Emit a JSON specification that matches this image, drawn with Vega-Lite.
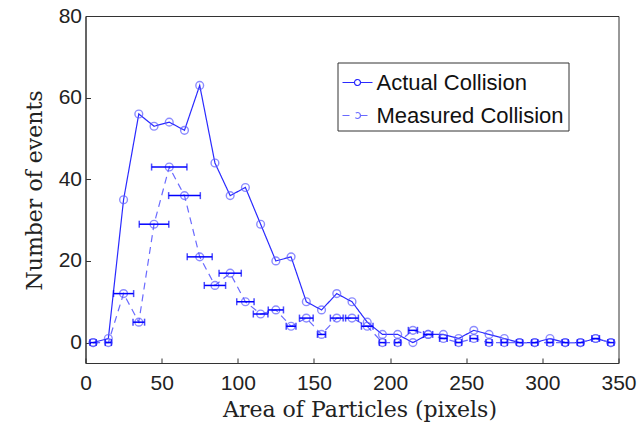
{
  "$schema": "https://vega.github.io/schema/vega-lite/v6.json",
  "width": 533,
  "height": 347,
  "autosize": {"type": "none"},
  "padding": {"left": 85.5, "top": 16, "right": 23.5, "bottom": 63},
  "background": "white",
  "config": {
    "view": {"stroke": "#333", "strokeWidth": 1},
    "axis": {
      "grid": false,
      "domainColor": "#333",
      "tickColor": "#333",
      "tickSize": -5,
      "labelFlush": false,
      "labelFont": "Liberation Sans",
      "labelFontSize": 21,
      "labelColor": "#222",
      "titleFont": "DejaVu Serif",
      "titleFontWeight": "normal",
      "titleFontSize": 22,
      "titleColor": "#222"
    }
  },
  "data": {
    "values": [
      {"x": 5, "y": 0, "series": "Actual Collision"},
      {"x": 15, "y": 1, "series": "Actual Collision"},
      {"x": 25, "y": 35, "series": "Actual Collision"},
      {"x": 35, "y": 56, "series": "Actual Collision"},
      {"x": 45, "y": 53, "series": "Actual Collision"},
      {"x": 55, "y": 54, "series": "Actual Collision"},
      {"x": 65, "y": 52, "series": "Actual Collision"},
      {"x": 75, "y": 63, "series": "Actual Collision"},
      {"x": 85, "y": 44, "series": "Actual Collision"},
      {"x": 95, "y": 36, "series": "Actual Collision"},
      {"x": 105, "y": 38, "series": "Actual Collision"},
      {"x": 115, "y": 29, "series": "Actual Collision"},
      {"x": 125, "y": 20, "series": "Actual Collision"},
      {"x": 135, "y": 21, "series": "Actual Collision"},
      {"x": 145, "y": 10, "series": "Actual Collision"},
      {"x": 155, "y": 8, "series": "Actual Collision"},
      {"x": 165, "y": 12, "series": "Actual Collision"},
      {"x": 175, "y": 10, "series": "Actual Collision"},
      {"x": 185, "y": 5, "series": "Actual Collision"},
      {"x": 195, "y": 2, "series": "Actual Collision"},
      {"x": 205, "y": 2, "series": "Actual Collision"},
      {"x": 215, "y": 0, "series": "Actual Collision"},
      {"x": 225, "y": 2, "series": "Actual Collision"},
      {"x": 235, "y": 2, "series": "Actual Collision"},
      {"x": 245, "y": 1, "series": "Actual Collision"},
      {"x": 255, "y": 3, "series": "Actual Collision"},
      {"x": 265, "y": 2, "series": "Actual Collision"},
      {"x": 275, "y": 1, "series": "Actual Collision"},
      {"x": 285, "y": 0, "series": "Actual Collision"},
      {"x": 295, "y": 0, "series": "Actual Collision"},
      {"x": 305, "y": 1, "series": "Actual Collision"},
      {"x": 315, "y": 0, "series": "Actual Collision"},
      {"x": 325, "y": 0, "series": "Actual Collision"},
      {"x": 335, "y": 1, "series": "Actual Collision"},
      {"x": 345, "y": 0, "series": "Actual Collision"},
      {"x": 5, "y": 0, "lo": 3, "hi": 7, "series": "Measured Collision"},
      {"x": 15, "y": 0, "lo": 13, "hi": 17, "series": "Measured Collision"},
      {"x": 25, "y": 12, "lo": 18.4, "hi": 31.6, "series": "Measured Collision"},
      {"x": 35, "y": 5, "lo": 31.2, "hi": 38.8, "series": "Measured Collision"},
      {"x": 45, "y": 29, "lo": 35.3, "hi": 54.7, "series": "Measured Collision"},
      {"x": 55, "y": 43, "lo": 43.4, "hi": 66.6, "series": "Measured Collision"},
      {"x": 65, "y": 36, "lo": 54.6, "hi": 75.4, "series": "Measured Collision"},
      {"x": 75, "y": 21, "lo": 66.8, "hi": 83.2, "series": "Measured Collision"},
      {"x": 85, "y": 14, "lo": 78, "hi": 92, "series": "Measured Collision"},
      {"x": 95, "y": 17, "lo": 87.7, "hi": 102.3, "series": "Measured Collision"},
      {"x": 105, "y": 10, "lo": 99.3, "hi": 110.7, "series": "Measured Collision"},
      {"x": 115, "y": 7, "lo": 110.2, "hi": 119.8, "series": "Measured Collision"},
      {"x": 125, "y": 8, "lo": 120, "hi": 130, "series": "Measured Collision"},
      {"x": 135, "y": 4, "lo": 131.8, "hi": 138.2, "series": "Measured Collision"},
      {"x": 145, "y": 6, "lo": 140.5, "hi": 149.5, "series": "Measured Collision"},
      {"x": 155, "y": 2, "lo": 152.3, "hi": 157.7, "series": "Measured Collision"},
      {"x": 165, "y": 6, "lo": 160.8, "hi": 169.2, "series": "Measured Collision"},
      {"x": 175, "y": 6, "lo": 170.8, "hi": 179.2, "series": "Measured Collision"},
      {"x": 185, "y": 4, "lo": 181.2, "hi": 188.8, "series": "Measured Collision"},
      {"x": 195, "y": 0, "lo": 193, "hi": 197, "series": "Measured Collision"},
      {"x": 205, "y": 0, "lo": 203, "hi": 207, "series": "Measured Collision"},
      {"x": 215, "y": 3, "lo": 212, "hi": 218, "series": "Measured Collision"},
      {"x": 225, "y": 2, "lo": 222, "hi": 228, "series": "Measured Collision"},
      {"x": 235, "y": 1, "lo": 232.5, "hi": 237.5, "series": "Measured Collision"},
      {"x": 245, "y": 0, "lo": 243, "hi": 247, "series": "Measured Collision"},
      {"x": 255, "y": 1, "lo": 252.5, "hi": 257.5, "series": "Measured Collision"},
      {"x": 265, "y": 0, "lo": 263, "hi": 267, "series": "Measured Collision"},
      {"x": 275, "y": 0, "lo": 273, "hi": 277, "series": "Measured Collision"},
      {"x": 285, "y": 0, "lo": 283, "hi": 287, "series": "Measured Collision"},
      {"x": 295, "y": 0, "lo": 293, "hi": 297, "series": "Measured Collision"},
      {"x": 305, "y": 0, "lo": 303, "hi": 307, "series": "Measured Collision"},
      {"x": 315, "y": 0, "lo": 313, "hi": 317, "series": "Measured Collision"},
      {"x": 325, "y": 0, "lo": 323, "hi": 327, "series": "Measured Collision"},
      {"x": 335, "y": 1, "lo": 332.5, "hi": 337.5, "series": "Measured Collision"},
      {"x": 345, "y": 0, "lo": 343, "hi": 347, "series": "Measured Collision"}
    ]
  },
  "layer": [
    {
      "mark": {"type": "line", "strokeWidth": 1.2},
      "encoding": {
        "x": {
          "field": "x", "type": "quantitative",
          "title": "Area of Particles (pixels)",
          "scale": {"domain": [0, 350], "nice": false, "zero": false, "padding": 0},
          "axis": {
            "values": [0, 50, 100, 150, 200, 250, 300, 350],
            "labelPadding": 14,
            "titleX": 274,
            "titleY": 53.7,
            "titleBaseline": "alphabetic",
            "titleAnchor": "middle",
            "titleAlign": "center"
          }
        },
        "y": {
          "field": "y", "type": "quantitative",
          "title": "Number of events",
          "scale": {"domain": [-5, 80], "nice": false, "zero": false, "padding": 0},
          "axis": {
            "values": [0, 20, 40, 60, 80],
            "labelPadding": 9,
            "titleX": -43.8,
            "titleY": 174,
            "titleAngle": -90,
            "titleBaseline": "alphabetic",
            "titleAlign": "center"
          }
        },
        "color": {
          "field": "series", "type": "nominal",
          "scale": {"domain": ["Actual Collision", "Measured Collision"], "range": ["#2a2aff", "#6a6aff"]},
          "legend": {
            "title": null,
            "orient": "none",
            "legendX": 252,
            "legendY": 46.5,
            "strokeColor": "#333",
            "fillColor": "white",
            "padding": 4,
            "symbolType": "M-1,0H-0.2M0.2,0H1M0.2,0A0.2,0.2,0,1,1,-0.2,0A0.2,0.2,0,1,1,0.2,0",
            "symbolFillColor": "transparent",
            "symbolSize": 900,
            "symbolStrokeWidth": 1.2,
            "labelFont": "Liberation Sans",
            "labelFontSize": 22,
            "labelColor": "#111",
            "labelOffset": 3,
            "rowPadding": 6,
            "labelLimit": 300
          }
        },
        "strokeDash": {
          "field": "series", "type": "nominal",
          "scale": {"domain": ["Actual Collision", "Measured Collision"], "range": [[1, 0], [7, 5]]},
          "legend": {
            "title": null,
            "orient": "none",
            "legendX": 252,
            "legendY": 46.5,
            "strokeColor": "#333",
            "fillColor": "white",
            "padding": 4,
            "symbolType": "M-1,0H-0.2M0.2,0H1M0.2,0A0.2,0.2,0,1,1,-0.2,0A0.2,0.2,0,1,1,0.2,0",
            "symbolFillColor": "transparent",
            "symbolSize": 900,
            "symbolStrokeWidth": 1.2,
            "labelFont": "Liberation Sans",
            "labelFontSize": 22,
            "labelColor": "#111",
            "labelOffset": 3,
            "rowPadding": 6,
            "labelLimit": 300
          }
        }
      }
    },
    {
      "mark": {"type": "point", "shape": "circle", "filled": false, "size": 60, "strokeWidth": 1.4, "color": "#5c5cff"},
      "encoding": {
        "x": {"field": "x", "type": "quantitative", "title": "Area of Particles (pixels)"},
        "y": {"field": "y", "type": "quantitative", "title": "Number of events"}
      }
    },
    {
      "transform": [{"filter": "datum.series === 'Measured Collision'"}],
      "mark": {"type": "errorbar", "ticks": {"size": 7, "color": "#0000ff", "strokeWidth": 1.5}, "color": "#0000ff", "thickness": 1.5},
      "encoding": {
        "x": {"field": "lo", "type": "quantitative", "title": "Area of Particles (pixels)"},
        "x2": {"field": "hi"},
        "y": {"field": "y", "type": "quantitative", "title": "Number of events"}
      }
    }
  ]
}
